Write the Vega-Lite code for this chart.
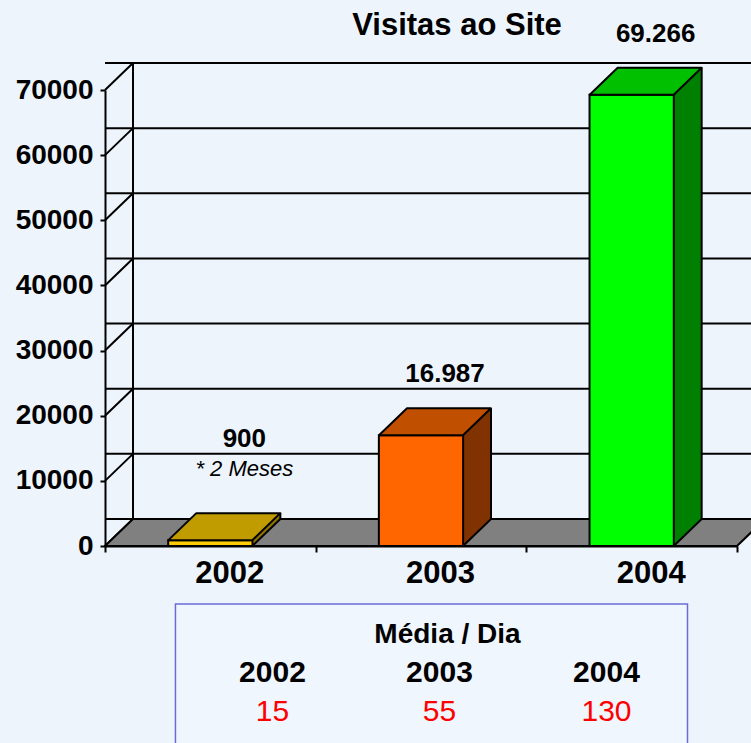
{
  "$schema": "https://vega.github.io/schema/vega-lite/v6.json",
  "autosize": {"type": "none"},
  "padding": {"left": 105, "top": 90, "right": 14, "bottom": 197},
  "width": 632,
  "height": 456,
  "background": "#edf4fb",
  "config": {
    "view": {"stroke": null},
    "font": "Liberation Sans",
    "locale": {"number": {"decimal": ",", "thousands": ".", "grouping": [3], "currency": ["R$", ""]}},
    "axisX": {"domainColor": "black", "domainWidth": 2, "tickColor": "black", "tickWidth": 2, "tickSize": 6, "tickBand": "extent", "labelFont": "Liberation Sans", "labelFontSize": 31, "labelFontWeight": "bold", "labelColor": "black", "labelOffset": 19, "labelPadding": 6, "labelAngle": 0, "grid": false},
    "axisY": {"domainColor": "black", "domainWidth": 2, "tickColor": "black", "tickWidth": 2, "tickSize": 5, "labelFont": "Liberation Sans", "labelFontSize": 28, "labelFontWeight": "bold", "labelColor": "black", "labelPadding": 7, "grid": false}
  },
  "title": {"text": "Visitas ao Site", "fontSize": 31, "fontWeight": "bold", "font": "Liberation Sans", "color": "black", "anchor": "middle", "frame": "group", "dx": 36, "offset": -45, "baseline": "alphabetic"},
  "datasets": {
    "bars": [
      {"year": "2002", "visits": 900, "avg": 15, "note": "* 2 Meses"},
      {"year": "2003", "visits": 16987, "avg": 55, "note": ""},
      {"year": "2004", "visits": 69266, "avg": 130, "note": ""}
    ],
    "grid": [{"v": 0}, {"v": 10000}, {"v": 20000}, {"v": 30000}, {"v": 40000}, {"v": 50000}, {"v": 60000}, {"v": 70000}],
    "one": [{"t": "Média / Dia"}]
  },
  "layer": [
    {
      "layer": [
        {
          "data": {"name": "grid"},
          "mark": {"type": "rule", "color": "black", "strokeWidth": 2, "xOffset": 28, "x2Offset": 28, "yOffset": -27, "y2Offset": -27},
          "encoding": {
            "y": {"field": "v", "type": "quantitative", "title": null, "scale": {"domain": [0, 70000], "nice": false}, "axis": {"title": null, "format": "d", "values": [0, 10000, 20000, 30000, 40000, 50000, 60000, 70000]}}
          }
        },
        {
          "data": {"name": "one"},
          "mark": {"type": "rule", "color": "black", "strokeWidth": 2, "xOffset": 28, "yOffset": -27, "y2Offset": -27},
          "encoding": {
            "x": {"datum": "2002", "bandPosition": 0, "type": "nominal"},
            "y": {"datum": 0, "type": "quantitative"},
            "y2": {"datum": 70000}
          }
        },
        {
          "data": {"name": "grid"},
          "mark": {"type": "point", "shape": "M0 0L28 -27", "size": 4, "filled": false, "stroke": "black", "strokeWidth": 2, "opacity": 1},
          "encoding": {
            "x": {"datum": "2002", "bandPosition": 0, "type": "nominal"},
            "y": {"field": "v", "type": "quantitative", "title": null}
          }
        },
        {
          "data": {"name": "one"},
          "mark": {"type": "point", "shape": "M0 0L632 0L660 -27L28 -27Z", "size": 4, "filled": true, "fill": "#808080", "stroke": "black", "strokeWidth": 2, "opacity": 1},
          "encoding": {
            "x": {"datum": "2002", "bandPosition": 0, "type": "nominal"},
            "y": {"datum": 0, "type": "quantitative"}
          }
        },
        {
          "data": {"name": "bars"},
          "mark": {"type": "bar", "width": {"band": 0.4}, "xOffset": 28, "x2Offset": 28, "yOffset": -27, "y2Offset": -27, "strokeWidth": 0},
          "encoding": {
            "x": {"field": "year", "type": "nominal", "title": null},
            "y": {"field": "visits", "type": "quantitative", "title": null},
            "fill": {"condition": [{"test": "datum.year == '2002'", "value": "#8c7000"}, {"test": "datum.year == '2003'", "value": "#803300"}], "value": "#008000"}
          }
        },
        {
          "data": {"name": "bars"},
          "mark": {"type": "point", "shape": "M42 -27.5L70.5 -27.5L42 0Z", "size": 4, "filled": true, "strokeWidth": 0, "opacity": 1},
          "encoding": {
            "x": {"field": "year", "type": "nominal", "title": null},
            "y": {"datum": 0, "type": "quantitative"},
            "fill": {"condition": [{"test": "datum.year == '2002'", "value": "#8c7000"}, {"test": "datum.year == '2003'", "value": "#803300"}], "value": "#008000"}
          }
        },
        {
          "data": {"name": "bars"},
          "mark": {"type": "bar", "width": {"band": 0.4}, "stroke": "black", "strokeWidth": 2},
          "encoding": {
            "x": {"field": "year", "type": "nominal", "title": null, "scale": {"paddingInner": 0, "paddingOuter": 0}, "axis": {"title": null}},
            "y": {"field": "visits", "type": "quantitative", "title": null},
            "fill": {"condition": [{"test": "datum.year == '2002'", "value": "#ffcc00"}, {"test": "datum.year == '2003'", "value": "#ff6600"}], "value": "#00ff00"}
          }
        },
        {
          "data": {"name": "bars"},
          "mark": {"type": "point", "shape": "M-42 0L42 0L70 -27L-14 -27Z", "size": 4, "filled": true, "stroke": "black", "strokeWidth": 2, "strokeJoin": "round", "opacity": 1},
          "encoding": {
            "x": {"field": "year", "type": "nominal", "title": null},
            "y": {"field": "visits", "type": "quantitative", "title": null},
            "fill": {"condition": [{"test": "datum.year == '2002'", "value": "#c09c00"}, {"test": "datum.year == '2003'", "value": "#c04f00"}], "value": "#00c000"}
          }
        },
        {
          "data": {"name": "bars"},
          "mark": {"type": "rule", "color": "black", "strokeWidth": 2, "xOffset": 70, "yOffset": -27, "y2Offset": -27},
          "encoding": {
            "x": {"field": "year", "type": "nominal", "title": null},
            "y": {"field": "visits", "type": "quantitative", "title": null},
            "y2": {"datum": 0}
          }
        },
        {
          "data": {"name": "bars"},
          "mark": {"type": "point", "shape": "M70 -27L42 0", "size": 4, "filled": false, "stroke": "black", "strokeWidth": 2, "opacity": 1},
          "encoding": {
            "x": {"field": "year", "type": "nominal", "title": null},
            "y": {"datum": 0, "type": "quantitative"}
          }
        },
        {
          "data": {"name": "bars"},
          "transform": [{"filter": "datum.year != '2002'"}],
          "mark": {"type": "text", "font": "Liberation Sans", "fontSize": 26, "fontWeight": "bold", "color": "black", "baseline": "alphabetic", "align": "center", "xOffset": 24, "yOffset": -53},
          "encoding": {
            "x": {"field": "year", "type": "nominal", "title": null},
            "y": {"field": "visits", "type": "quantitative", "title": null},
            "text": {"field": "visits", "type": "quantitative", "format": ",d"}
          }
        },
        {
          "data": {"name": "bars"},
          "transform": [{"filter": "datum.year == '2002'"}],
          "mark": {"type": "text", "font": "Liberation Sans", "fontSize": 26, "fontWeight": "bold", "color": "black", "baseline": "alphabetic", "align": "center", "xOffset": 34, "yOffset": -93},
          "encoding": {
            "x": {"field": "year", "type": "nominal", "title": null},
            "y": {"field": "visits", "type": "quantitative", "title": null},
            "text": {"field": "visits", "type": "quantitative", "format": ",d"}
          }
        },
        {
          "data": {"name": "bars"},
          "transform": [{"filter": "datum.year == '2002'"}],
          "mark": {"type": "text", "font": "Liberation Sans", "fontSize": 22, "fontStyle": "italic", "color": "black", "baseline": "alphabetic", "align": "center", "xOffset": 34, "yOffset": -64},
          "encoding": {
            "x": {"field": "year", "type": "nominal", "title": null},
            "y": {"field": "visits", "type": "quantitative", "title": null},
            "text": {"field": "note", "type": "nominal"}
          }
        }
      ]
    },
    {
      "layer": [
        {
          "data": {"name": "one"},
          "mark": {"type": "rect", "fill": "#f0f6fd", "stroke": "#6b6bd6", "strokeWidth": 1.5, "xOffset": -97, "x2Offset": 81, "yOffset": 58, "y2Offset": 210},
          "encoding": {
            "x": {"datum": "2002", "type": "nominal", "scale": {"type": "point", "domain": ["2002", "2003", "2004"], "padding": 0.892, "align": 0.562}, "axis": null},
            "x2": {"datum": "2004"},
            "y": {"datum": 0, "type": "quantitative"},
            "y2": {"datum": 0}
          }
        },
        {
          "data": {"name": "one"},
          "mark": {"type": "text", "font": "Liberation Sans", "fontSize": 28, "fontWeight": "bold", "color": "black", "baseline": "alphabetic", "align": "center", "xOffset": 8, "yOffset": 97},
          "encoding": {
            "x": {"datum": "2003", "type": "nominal", "axis": null},
            "y": {"datum": 0, "type": "quantitative"},
            "text": {"field": "t", "type": "nominal"}
          }
        },
        {
          "data": {"name": "bars"},
          "mark": {"type": "text", "font": "Liberation Sans", "fontSize": 30, "fontWeight": "bold", "color": "black", "baseline": "alphabetic", "align": "center", "yOffset": 136},
          "encoding": {
            "x": {"field": "year", "type": "nominal", "axis": null},
            "y": {"datum": 0, "type": "quantitative"},
            "text": {"field": "year", "type": "nominal"}
          }
        },
        {
          "data": {"name": "bars"},
          "mark": {"type": "text", "font": "Liberation Sans", "fontSize": 30, "color": "#ff0000", "baseline": "alphabetic", "align": "center", "yOffset": 175},
          "encoding": {
            "x": {"field": "year", "type": "nominal", "axis": null},
            "y": {"datum": 0, "type": "quantitative"},
            "text": {"field": "avg", "type": "quantitative"}
          }
        }
      ]
    }
  ],
  "resolve": {"scale": {"x": "independent"}}
}
